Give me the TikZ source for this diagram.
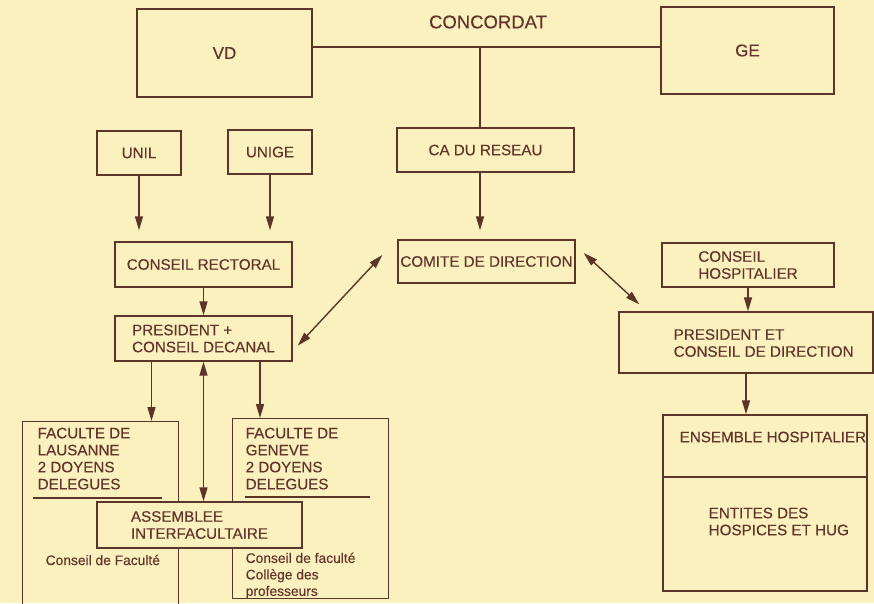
\documentclass[tikz,border=0pt]{standalone}
\usepackage{fontspec}
\setmainfont{Liberation Sans}
\newfontfamily\diagfont[FakeBold=0.35]{Liberation Sans}
\usepackage{tikz}
\usetikzlibrary{arrows.meta}

\definecolor{paper}{RGB}{251,241,190}
\definecolor{ink}{RGB}{92,52,42}
\definecolor{inktext}{RGB}{100,52,44}

\begin{document}
\begin{tikzpicture}[x=1pt, y=-1pt, >={Triangle[length=14pt,width=8pt]}, line width=1.4pt,
    box/.style={draw=ink, rectangle, inner sep=2pt, text=inktext, align=left,
                font=\diagfont\fontsize{15.2}{17}\selectfont},
    lbl/.style={inner sep=2pt, text=inktext, align=left, font=\diagfont\fontsize{15.2}{17}\selectfont},
    small/.style={inner sep=2pt, text=inktext, align=left, font=\diagfont\fontsize{13.8}{16.5}\selectfont},
    link/.style={draw=ink, ->},
    both/.style={draw=ink, <->}]
    \useasboundingbox (0,0) rectangle (874,603);
    \fill[paper] (0,0) rectangle (874,603);

    % top level
    \node[box, minimum width=175pt, minimum height=88pt, font=\diagfont\fontsize{17}{19}\selectfont] (vd) at (224.5,53) {VD};
    \node[box, minimum width=173pt, minimum height=87pt, font=\diagfont\fontsize{17}{19}\selectfont] (ge) at (747.5,50.5) {GE};
    \node[lbl, font=\diagfont\fontsize{18.5}{20}\selectfont] (concordat) at (488,22) {CONCORDAT};
    \coordinate (cc) at (480,47);

    % universities and network
    \node[box, minimum width=84pt, minimum height=44pt] (unil) at (139,153) {UNIL};
    \node[box, minimum width=84pt, minimum height=44pt] (unige) at (270,152) {UNIGE};
    \node[box, minimum width=177pt, minimum height=44pt] (ca) at (485.5,150) {CA DU RESEAU};

    \node[box, minimum width=177pt, minimum height=45pt] (rectoral) at (203.5,264.5) {CONSEIL RECTORAL};
    \node[box, minimum width=177pt, minimum height=45pt] (presdec) at (203.5,338.5) {PRESIDENT +\\CONSEIL DECANAL};
    \node[box, minimum width=177pt, minimum height=43pt, inner sep=0pt] (comite) at (486.5,261.5) {COMITE DE DIRECTION};

    % hospitals
    \node[box, minimum width=172pt, minimum height=44pt] (hospitalier) at (748,265) {CONSEIL\\HOSPITALIER};
    \node[box, minimum width=254pt, minimum height=61pt] (presdir) at (746,342.5) {};
    \node[lbl, anchor=west] (presdirtxt) at (671,343) {PRESIDENT ET\\CONSEIL DE DIRECTION};
    \node[box, minimum width=204pt, minimum height=62pt] (ensemble) at (765,446) {};
    \node[box, minimum width=204pt, minimum height=114pt] (entites) at (765,534) {};
    \node[lbl, anchor=west] (ensembletxt) at (677,437) {ENSEMBLE HOSPITALIER};
    \node[lbl, anchor=west] (entitestxt) at (706,521.5) {ENTITES DES\\HOSPICES ET HUG};

    % faculties
    \node[box, minimum width=156pt, minimum height=200pt, anchor=north west] (lausanne) at (22,421) {};
    \node[box, minimum width=156pt, minimum height=180pt, anchor=north west] (geneve) at (232,418) {};
    \node[lbl, anchor=north west] (lausannetxt) at (35,425) {FACULTE DE\\LAUSANNE\\2 DOYENS\\DELEGUES};
    \node[lbl, anchor=north west] (genevetxt) at (243,425) {FACULTE DE\\GENEVE\\2 DOYENS\\DELEGUES};
    \draw[ink] (33,498) -- (162,498);
    \draw[ink] (245,497) -- (370,497);
    \node[small, anchor=west] (lausanneconseil) at (43,560) {Conseil de Facult\'e};
    \node[small, anchor=north west] (geneveconseil) at (243,550) {Conseil de facult\'e\\Coll\`ege des\\professeurs};
    \node[box, fill=paper, minimum width=205pt, minimum height=46pt] (assemblee) at (199.5,525) {ASSEMBLEE\\INTERFACULTAIRE};

    % connectors
    \draw[ink] (vd.east |- cc) -- (ge.west |- cc);
    \draw[ink] (cc) -- (cc |- ca.north);
    \draw[link, shorten >=11pt] (unil.south) -- (unil.south |- rectoral.north);
    \draw[link, shorten >=11pt] (unige.south) -- (unige.south |- rectoral.north);
    \draw[link, shorten >=9pt] (ca.south -| cc) -- (cc |- comite.north);
    \draw[link] (rectoral.south) -- (presdec.north);
    \draw[both] ([shift={(5,-16)}]presdec.south east) -- ([shift={(-15,-6.5)}]comite.west);
    \draw[both] ([shift={(8,-8.5)}]comite.east) -- ([shift={(21,-7)}]presdir.north west);
    \draw[link] (hospitalier.south) -- (hospitalier.south |- presdir.north);
    \draw[link] (presdir.south) -- (presdir.south |- ensemble.north);
    \draw[link] ([xshift=-52pt]presdec.south) -- ([xshift=-52pt]presdec.south |- lausanne.north);
    \draw[link] ([xshift=56.5pt]presdec.south) -- ([xshift=56.5pt]presdec.south |- geneve.north);
    \draw[both] (presdec.south) -- (presdec.south |- assemblee.north);
\end{tikzpicture}
\end{document}
